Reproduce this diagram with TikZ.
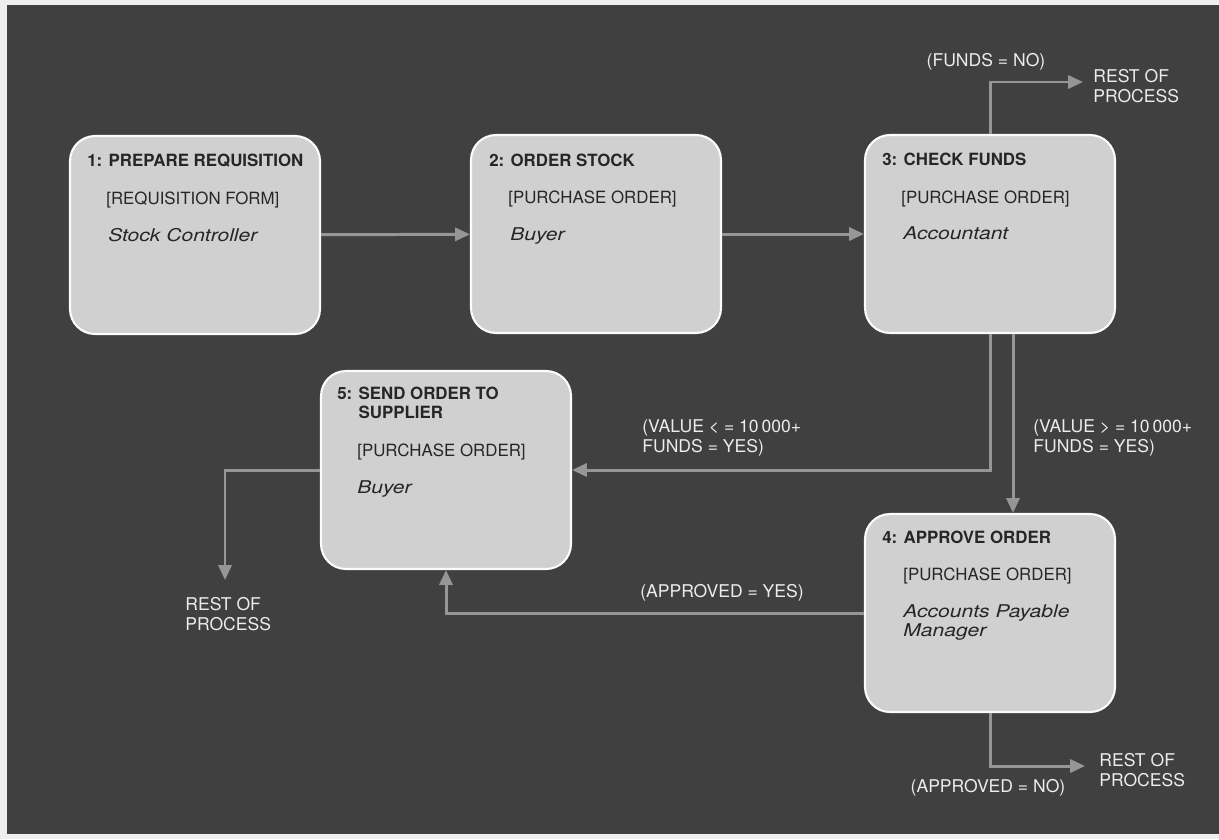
\documentclass[tikz,border=0pt]{standalone}
\usepackage{fontspec}
\setmainfont{TeX Gyre Heros}
\newfontfamily\actorfont{TeX Gyre Heros}[FakeStretch=1.2]
\usetikzlibrary{
  arrows.meta,
  positioning
}
\definecolor{panel}{RGB}{64,64,64}
\definecolor{paper}{RGB}{238,238,238}
\definecolor{card}{RGB}{208,208,208}
\definecolor{flow}{RGB}{150,150,150}
\definecolor{note}{RGB}{236,236,236}

\begin{document}
\begin{tikzpicture}[
  x=0.02cm, y=-0.02cm,
  every node/.style={font=\fontsize{9.6}{10.8}\selectfont},
  stepbox/.style={draw=white!92!card, line width=1.2pt, fill=card, rounded corners=0.5cm,
               minimum width=5cm, minimum height=3.96cm},
  title/.style={anchor=base west, font=\fontsize{9.6}{10.8}\selectfont\bfseries,
               text=black!85, align=left, inner sep=0pt},
  form/.style={anchor=base west, text=black!85, inner sep=0pt},
  actor/.style={anchor=base west, font=\fontsize{10}{10.8}\selectfont\actorfont\itshape,
               text=black!85, align=left, inner sep=0pt},
  cond/.style={text=note, align=left, inner sep=0pt,
               font=\fontsize{10}{11.2}\selectfont},
  flowline/.style={draw=flow, line width=1.7pt},
  >={Triangle[length=8.5pt, width=7.5pt]}
]

% background
\fill[paper] (0,0) rectangle (1219,839);
\fill[panel] (7,5) rectangle (1219,834);

% process steps
\node[stepbox] (b1) at (195,235) {};
\node[stepbox] (b2) at (596,234) {};
\node[stepbox] (b3) at (990,234) {};
\node[stepbox] (b5) at (446,470) {};
\node[stepbox] (b4) at (990,613) {};

\node[title] (t1) at (87,166) {1: PREPARE REQUISITION};
\node[form] (f1) at (106,204) {[REQUISITION FORM]};
\node[actor] (a1) at (108,241) {Stock Controller};

\node[title] (t2) at (489,166) {2: ORDER STOCK};
\node[form] (f2) at (508,203) {[PURCHASE ORDER]};
\node[actor] (a2) at (510,240) {Buyer};

\node[title] (t3) at (882,165) {3: CHECK FUNDS};
\node[form] (f3) at (901,203) {[PURCHASE ORDER]};
\node[actor] (a3) at (903,239) {Accountant};

% two-line nodes sit on their last baseline
\node[title] (t5) at (337,418) {5: SEND ORDER TO\\\phantom{5: }SUPPLIER};
\node[form] (f5) at (357,456) {[PURCHASE ORDER]};
\node[actor] (a5) at (357,493) {Buyer};

\node[title] (t4) at (882,543) {4: APPROVE ORDER};
\node[form] (f4) at (903,580) {[PURCHASE ORDER]};
\node[actor] (a4) at (903,636) {Accounts Payable\\Manager};

% loose ends
\coordinate (r1) at (1083,82);
\coordinate (r2) at (225,580);
\coordinate (r3) at (1085,766);

% connectors
\draw[flowline, ->] (b1) -- (b2);
\draw[flowline, ->] (b2) -- (b3);
\draw[flowline, ->] (b3.north) |- (r1);
\draw[flowline, ->] (b3.south) |- (b5.east);
\draw[flowline, ->] ([xshift=0.46cm]b3.south) -- ([xshift=0.46cm]b4.north);
\draw[flowline, ->] (b4.west) -| (b5.south);
\draw[flowline, ->] (b4.south) |- (r3);
\draw[flowline, ->] (b5.west) -| (r2);

% conditions
\node[cond] (c1) at (986,62) {(FUNDS = NO)};
\node[cond, anchor=west] (e1) at (1093,86) {REST OF\\PROCESS};
\node[cond, anchor=west] (c2) at (642,438) {(VALUE < = 10\,000+\\FUNDS = YES)};
\node[cond, anchor=west] (c3) at (1033,438) {(VALUE > = 10\,000+\\FUNDS = YES)};
\node[cond] (c4) at (722,593) {(APPROVED = YES)};
\node[cond] (c5) at (988,788) {(APPROVED = NO)};
\node[cond, anchor=west] (e3) at (1099,770) {REST OF\\PROCESS};
\node[cond, anchor=west] (e2) at (185,614) {REST OF\\PROCESS};

\end{tikzpicture}
\end{document}
